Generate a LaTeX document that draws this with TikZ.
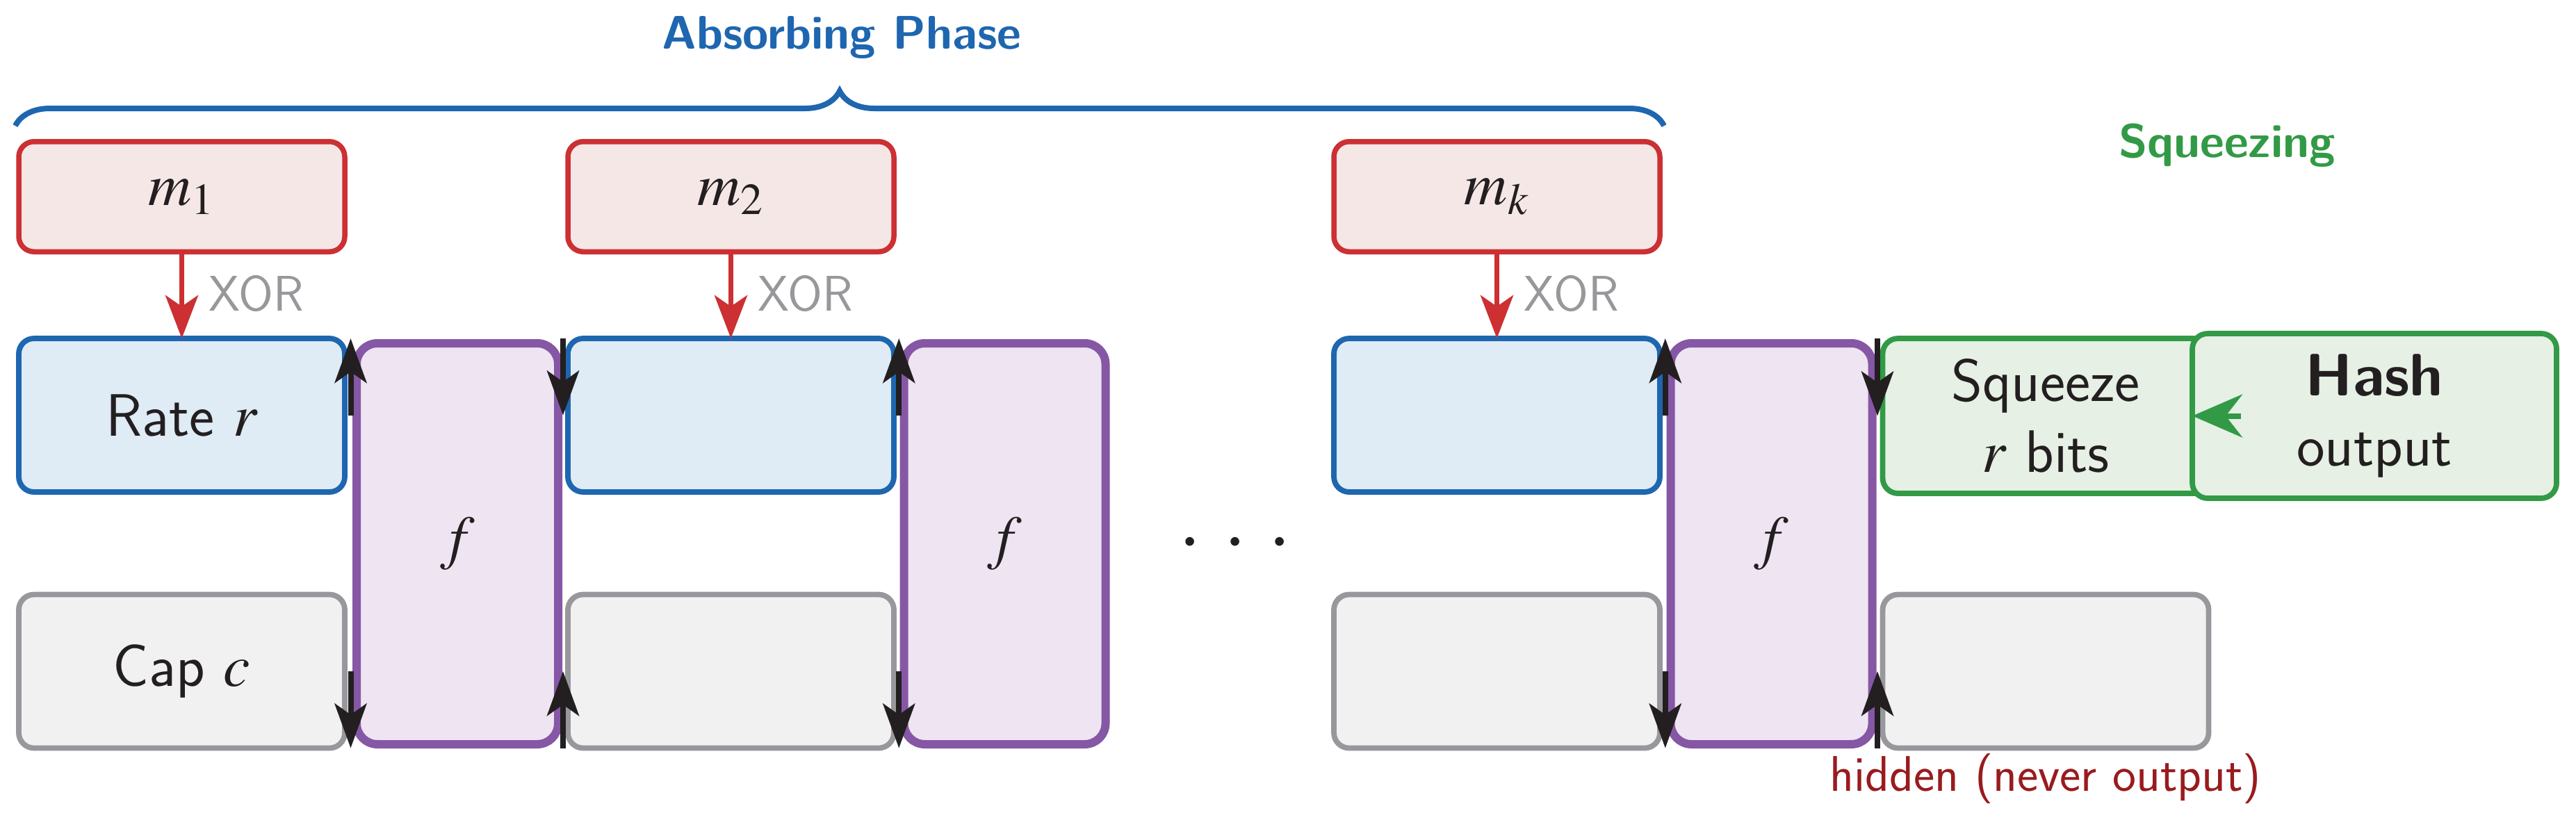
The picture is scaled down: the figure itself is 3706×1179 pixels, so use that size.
\RequirePackage{fix-cm}
\documentclass[tikz,border=0pt]{standalone}
\usepackage{mathptmx}
\usetikzlibrary{arrows.meta,decorations.pathreplacing,calc}
\definecolor{cBlue}{RGB}{30,102,176}
\definecolor{cBlueF}{RGB}{223,235,245}
\definecolor{cRed}{RGB}{204,48,51}
\definecolor{cRedF}{RGB}{246,231,231}
\definecolor{cPur}{RGB}{134,87,165}
\definecolor{cPurF}{RGB}{239,228,242}
\definecolor{cGray}{RGB}{152,152,156}
\definecolor{cGrayF}{RGB}{241,241,241}
\definecolor{cGrn}{RGB}{50,154,70}
\definecolor{cGrnF}{RGB}{230,240,228}
\definecolor{cDark}{RGB}{35,31,32}
\definecolor{cHid}{RGB}{153,27,30}
\newcommand{\mainfs}{\fontsize{24.5pt}{29pt}\selectfont}
\newcommand{\smallfs}{\fontsize{19.3pt}{23pt}\selectfont}
\newcommand{\labfs}{\fontsize{20.5pt}{24pt}\selectfont}
\newcommand{\dotfs}{\fontsize{34pt}{40pt}\selectfont}
\begin{document}
\begin{tikzpicture}[x=0.1mm,y=-0.1mm,
  font=\sffamily,
  basebox/.style={rounded corners=2.2mm, inner sep=0pt, outer sep=0pt,
    line width=0.78mm, minimum width=46.9mm, minimum height=22.1mm,
    font=\sffamily\mainfs, text=cDark},
  msgbox/.style={basebox, draw=cRed, fill=cRedF, line width=0.75mm, minimum height=15.85mm},
  ratebox/.style={basebox, draw=cBlue, fill=cBlueF},
  capbox/.style={basebox, draw=cGray, fill=cGrayF},
  permbox/.style={basebox, draw=cPur, fill=cPurF, line width=1.2mm,
    rounded corners=3mm, minimum width=29mm, minimum height=57.7mm},
  sqbox/.style={basebox, draw=cGrn, fill=cGrnF, align=center, minimum height=22.3mm},
  hashbox/.style={sqbox, minimum width=52.4mm, minimum height=23.7mm},
  blk/.style={draw=cDark, line width=0.8mm,
    -{Stealth[length=6.4mm, width=4.6mm, inset=1.6mm]}},
  redarr/.style={draw=cRed, line width=0.75mm,
    -{Stealth[length=6.2mm, width=4.7mm, inset=1.6mm]}},
  grnarr/.style={draw=cGrn, line width=0.8mm,
    -{Stealth[length=7.2mm, width=6.2mm, inset=2.4mm]}},
  xorlbl/.style={pos=0.68, anchor=base west, xshift=3.5mm, inner sep=0pt,
    font=\sffamily\labfs, text=cGray},
  phase/.style={anchor=base, inner sep=0pt, font=\sffamily\bfseries\smallfs},
  hidlbl/.style={anchor=base, inner sep=0pt, font=\sffamily\labfs, text=cHid},
  bracestyle/.style={draw=cBlue, line width=0.8mm,
    decorate, decoration={brace, amplitude=5mm}},
  dotlbl/.style={anchor=base, inner sep=0pt, font=\dotfs, text=cDark}
]
\useasboundingbox (0,0) rectangle (3706,1179);
\fill[white] (0,0) rectangle (3706,1179);

% title and brace
\node[phase, text=cBlue] (abs) at (1211,70) {Absorbing Phase};
\coordinate (bl) at (22,181);
\coordinate (br) at (2394,181);
\draw[bracestyle] (bl) -- (br);
\node[phase, text=cGrn] (sqz) at (3204,226) {Squeezing};

% message blocks
\node[msgbox] (m1) at (261.5,283) {$m_1$};
\node[msgbox] (m2) at (1051.5,283) {$m_2$};
\node[msgbox] (mk) at (2153.5,283) {$m_k$};

% rate boxes
\node[ratebox] (r1) at (261.5,597.5) {Rate $r$};
\node[ratebox] (r2) at (1051.5,597.5) {};
\node[ratebox] (r3) at (2153.5,597.5) {};

% capacity boxes
\node[capbox] (c1) at (261.5,966) {Cap $c$};
\node[capbox] (c2) at (1051.5,966) {};
\node[capbox] (c3) at (2153.5,966) {};
\node[capbox] (c4) at (2943,966) {};

% permutations
\node[permbox] (f1) at (658,782.5) {$f$};
\node[permbox] (f2) at (1445.5,782.5) {$f$};
\node[permbox] (f3) at (2548.5,782.5) {$f$};

% squeeze and hash
\node[sqbox] (sq) at (2943,598.5) {Squeeze\\$r$ bits};
\node[hashbox] (hash) at (3416,598.5) {\textbf{Hash}\\output};

% dots
\node[dotlbl] (dots) at (1777,809) {$\cdot$\hspace{3.15mm}$\cdot$\hspace{3.15mm}$\cdot$};

% hidden label
\node[hidlbl] (hid) at ([yshift=-6.2mm]c4.south) {hidden (never output)};

% XOR arrows
\draw[redarr] (m1.south) -- node[xorlbl] {XOR} (r1.north);
\draw[redarr] (m2.south) -- node[xorlbl] {XOR} (r2.north);
\draw[redarr] (mk.south) -- node[xorlbl] {XOR} (r3.north);

% gap coordinates
\coordinate (g1a) at ($(r1.east)!.5!(f1.west |- r1.east)$);
\coordinate (g1b) at ($(f1.east |- r2.west)!.5!(r2.west)$);
\coordinate (g2a) at ($(r2.east)!.5!(f2.west |- r2.east)$);
\coordinate (g3a) at ($(r3.east)!.5!(f3.west |- r3.east)$);
\coordinate (g3b) at ($(f3.east |- sq.west)!.5!(sq.west)$);

% state transfer arrows
\draw[blk] (g1a) -- (g1a |- r1.north);
\draw[blk] (g1a |- c1.center) -- (g1a |- c1.south);
\draw[blk] (g1b |- r2.north) -- (g1b);
\draw[blk] (g1b |- c2.south) -- (g1b |- c2.center);
\draw[blk] (g2a) -- (g2a |- r2.north);
\draw[blk] (g2a |- c2.center) -- (g2a |- c2.south);
\draw[blk] (g3a) -- (g3a |- r3.north);
\draw[blk] (g3a |- c3.center) -- (g3a |- c3.south);
\draw[blk] (g3b |- sq.north) -- (g3b);
\draw[blk] (g3b |- c4.south) -- (g3b |- c4.center);

% output arrow
\coordinate (hin) at ($(hash.west)+(70,0)$);
\draw[grnarr] (hin) -- (hash.west);
\end{tikzpicture}
\end{document}
